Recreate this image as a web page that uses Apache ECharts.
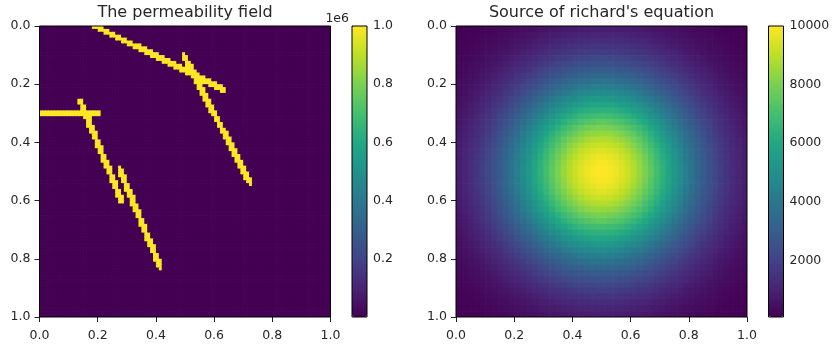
<!DOCTYPE html>
<html><head><meta charset="utf-8">
<script src="https://cdn.jsdelivr.net/npm/echarts@6/dist/echarts.min.js"></script>
<style>html,body{margin:0;padding:0;background:#fff}#c{width:833px;height:346px}</style>
</head><body><div id="c"></div>
<script>
// ---- data ----
const axisTicks = [0, 0.2, 0.4, 0.6, 0.8, 1.0];
const permBarTicks = [200000, 400000, 600000, 800000, 1000000];
const sourceBarTicks = [2000, 4000, 6000, 8000, 10000];
const permTitle = 'The permeability field';
const sourceTitle = "Source of richard's equation";
const permLow = 1;
const permHigh = 1000000;
const permCells = 100;
// fracture segments [x0, y0, x1, y1] in domain units (y downward)
const fractures = [
  [0.190, 0.000, 0.635, 0.220],
  [0.495, 0.100, 0.722, 0.535],
  [0.000, 0.300, 0.197, 0.300],
  [0.142, 0.262, 0.283, 0.603],
  [0.276, 0.493, 0.413, 0.825]
];
const fractureHalfWidth = 0.0105;
const sourcePeak = 10000;
const sourceMin = 68;
// normalized source profile through the centre (50 cells)
const sourceProfile = [
  0.091, 0.110, 0.132, 0.157, 0.186, 0.219, 0.254, 0.294, 0.337, 0.383,
  0.431, 0.482, 0.535, 0.589, 0.643, 0.697, 0.749, 0.799, 0.845, 0.886,
  0.922, 0.952, 0.975, 0.991, 1.000, 1.000, 0.991, 0.975, 0.952, 0.922,
  0.886, 0.845, 0.799, 0.749, 0.697, 0.643, 0.589, 0.535, 0.482, 0.431,
  0.383, 0.337, 0.294, 0.254, 0.219, 0.186, 0.157, 0.132, 0.110, 0.091
];
const viridis = ['#440154','#482475','#414487','#355f8d','#2a788e','#21918c','#22a884','#44bf70','#7ad151','#bddf26','#fde725'];

// ---- build cell tables ----
function segDist(px, py, s) {
  const dx = s[2] - s[0], dy = s[3] - s[1];
  const L2 = dx * dx + dy * dy;
  let t = L2 ? ((px - s[0]) * dx + (py - s[1]) * dy) / L2 : 0;
  t = Math.max(0, Math.min(1, t));
  const qx = s[0] + t * dx - px, qy = s[1] + t * dy - py;
  return Math.sqrt(qx * qx + qy * qy);
}
const permCats = Array.from({length: permCells}, (_, i) => String(i));
const permData = [];
for (let j = 0; j < permCells; j++) {
  for (let i = 0; i < permCells; i++) {
    const cx = (i + 0.5) / permCells, cy = (j + 0.5) / permCells;
    const hit = fractures.some(s => segDist(cx, cy, s) < fractureHalfWidth);
    permData.push([i, j, hit ? permHigh : permLow]);
  }
}
const srcN = sourceProfile.length;
const srcCats = Array.from({length: srcN}, (_, i) => String(i));
const srcData = [];
for (let j = 0; j < srcN; j++) {
  for (let i = 0; i < srcN; i++) {
    srcData.push([i, j, Math.max(sourceMin, sourcePeak * sourceProfile[i] * sourceProfile[j])]);
  }
}

// ---- chart ----
const FONT = 'DejaVu Sans';
const TXT = '#262626';
const labelStyle = {color: TXT, fontFamily: FONT, fontSize: 12.5};
const tick = {show: true, length: 5, lineStyle: {color: '#222', width: 1}};
function valueAxis(grid, pos, extra) {
  return Object.assign({
    gridIndex: grid, type: 'value', position: pos, min: 0, max: 1, interval: 0.2,
    axisLine: {show: false}, axisTick: tick, splitLine: {show: false},
    axisLabel: Object.assign({formatter: v => v.toFixed(1), margin: 12}, labelStyle)
  }, extra || {});
}
function catAxis(grid, cats, extra) {
  return Object.assign({gridIndex: grid, type: 'category', data: cats, show: false, boundaryGap: true}, extra || {});
}
function cellItem(params, api) {
  const c = api.coord([api.value(0), api.value(1)]);
  const s = api.size([1, 1]);
  return {
    type: 'rect',
    shape: {x: c[0] - s[0] / 2, y: c[1] - s[1] / 2, width: s[0] + 0.7, height: s[1] + 0.7},
    style: {fill: api.visual('color')}
  };
}
const P = {top: 26, h: 291};
const gridBase = {top: P.top, height: P.h, show: true, borderColor: '#000', borderWidth: 1, backgroundColor: 'transparent', z: 10};
const option = {
  animation: false,
  backgroundColor: '#fff',
  title: [
    {text: permTitle, left: 185, top: 5, textAlign: 'center', padding: 0,
     textStyle: {fontFamily: FONT, fontSize: 16, fontWeight: 'normal', color: TXT}},
    {text: sourceTitle, left: 601.5, top: 5, textAlign: 'center', padding: 0,
     textStyle: {fontFamily: FONT, fontSize: 16, fontWeight: 'normal', color: TXT}}
  ],
  grid: [
    Object.assign({left: 39.5, width: 291}, gridBase),
    Object.assign({left: 456, width: 291}, gridBase),
    Object.assign({left: 352, width: 15}, gridBase),
    Object.assign({left: 768.5, width: 15}, gridBase)
  ],
  xAxis: [
    catAxis(0, permCats),
    valueAxis(0, 'bottom'),
    catAxis(1, srcCats),
    valueAxis(1, 'bottom'),
    {gridIndex: 2, type: 'value', show: false},
    {gridIndex: 3, type: 'value', show: false}
  ],
  yAxis: [
    catAxis(0, permCats, {inverse: true}),
    valueAxis(0, 'left', {inverse: true, axisLabel: Object.assign({formatter: v => v.toFixed(1), margin: 9}, labelStyle)}),
    catAxis(1, srcCats, {inverse: true}),
    valueAxis(1, 'left', {inverse: true, axisLabel: Object.assign({formatter: v => v.toFixed(1), margin: 9}, labelStyle)}),
    {gridIndex: 2, type: 'value', position: 'right', min: 0, max: permHigh,
     axisLine: {show: false}, splitLine: {show: false},
     axisTick: Object.assign({customValues: permBarTicks}, tick),
     axisLabel: Object.assign({customValues: permBarTicks, formatter: v => (v / 1e6).toFixed(1), margin: 6}, labelStyle),
     name: '1e6', nameLocation: 'end', nameGap: 1,
     nameTextStyle: Object.assign({align: 'right', verticalAlign: 'bottom', padding: [0, 3, 0, 0]}, labelStyle)},
    {gridIndex: 3, type: 'value', position: 'right', min: sourceMin, max: sourcePeak,
     axisLine: {show: false}, splitLine: {show: false},
     axisTick: Object.assign({customValues: sourceBarTicks}, tick),
     axisLabel: Object.assign({customValues: sourceBarTicks, formatter: v => String(v), margin: 6}, labelStyle)}
  ],
  visualMap: [
    {type: 'continuous', seriesIndex: 0, dimension: 2, min: 0, max: permHigh, inRange: {color: viridis},
     orient: 'vertical', left: 352, top: P.top, itemWidth: 15, itemHeight: P.h, padding: 0,
     calculable: false, hoverLink: false, realtime: false, z: 5},
    {type: 'continuous', seriesIndex: 1, dimension: 2, min: sourceMin, max: sourcePeak, inRange: {color: viridis},
     orient: 'vertical', left: 768.5, top: P.top, itemWidth: 15, itemHeight: P.h, padding: 0,
     calculable: false, hoverLink: false, realtime: false, z: 5}
  ],
  series: [
    {type: 'custom', xAxisIndex: 0, yAxisIndex: 0, data: permData, renderItem: cellItem, clip: true, progressive: 0, silent: true,
     encode: {x: 0, y: 1}},
    {type: 'custom', xAxisIndex: 2, yAxisIndex: 2, data: srcData, renderItem: cellItem, clip: true, progressive: 0, silent: true,
     encode: {x: 0, y: 1}}
  ]
};
const chart = echarts.init(document.getElementById('c'), null, {renderer: 'canvas'});
chart.setOption(option);
</script>
</body></html>
